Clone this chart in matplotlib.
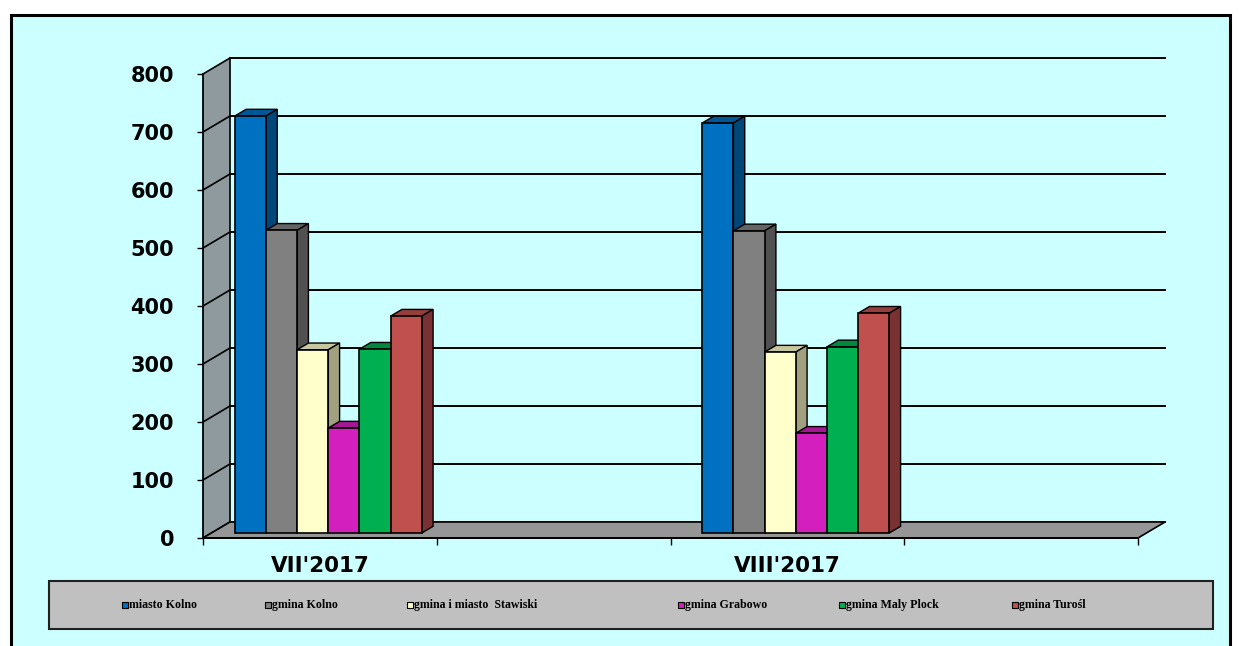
import numpy as np
import matplotlib
matplotlib.use("Agg")
import matplotlib.pyplot as plt
from matplotlib.patches import Rectangle, Polygon

# dane z wykresu (kategorie 2 i 4 sa puste)
categories = ["VII'2017", "", "VIII'2017", ""]
series_names = ["miasto Kolno", "gmina Kolno", "gmina i miasto  Stawiski",
                "gmina Grabowo", "gmina Maly Plock", "gmina Turośl"]
miasto_kolno = [719, np.nan, 707, np.nan]
gmina_kolno = [522, np.nan, 521, np.nan]
gmina_stawiski = [316, np.nan, 312, np.nan]
gmina_grabowo = [181, np.nan, 172, np.nan]
gmina_maly_plock = [317, np.nan, 321, np.nan]
gmina_turosl = [374, np.nan, 379, np.nan]
y_ticks = [0, 100, 200, 300, 400, 500, 600, 700, 800]

values = [miasto_kolno, gmina_kolno, gmina_stawiski,
          gmina_grabowo, gmina_maly_plock, gmina_turosl]
colors = ["#0070C0", "#808080", "#FFFFCC", "#D21FBE", "#00B050", "#C0504D"]


def shade(color, k):
    r, g, b = matplotlib.colors.to_rgb(color)
    return (r * k, g * k, b * k)


W, H = 1239, 646
fig = plt.figure(figsize=(W / 100, H / 100), dpi=100)
fig.patch.set_facecolor("white")

# tlo wykresu z ramka
fig.add_artist(Rectangle((11 / W, -0.02), (1230 - 11) / W, (H - 15) / H + 0.02,
                         transform=fig.transFigure, facecolor="#CCFFFF",
                         edgecolor="black", linewidth=2.2, zorder=0))

ax = fig.add_axes([203 / W, (H - 538) / H, (1138 - 203) / W, (538 - 74) / H])
ax.patch.set_visible(False)
ncat = len(categories)
ymax = y_ticks[-1]
ax.set_xlim(0, ncat)
ax.set_ylim(0, ymax)

# glebokosc "3D" w jednostkach danych
DX = 27 / (935 / ncat)
DY = 16 / (464 / ymax)

# lewa sciana
ax.add_patch(Polygon([(0, 0), (0, ymax), (DX, ymax + DY), (DX, DY)],
                     closed=True, facecolor="#8E9A9E", edgecolor="none",
                     zorder=0.5, clip_on=False))
# linie siatki na tylnej i lewej scianie
for v in y_ticks:
    ax.plot([DX, ncat + DX], [v + DY, v + DY], color="black", lw=1.4,
            zorder=1, clip_on=False)
    ax.plot([0, DX], [v, v + DY], color="black", lw=1.2, zorder=1, clip_on=False)
ax.plot([DX, DX], [DY, ymax + DY], color="black", lw=1.2, zorder=1, clip_on=False)

# podloga
ax.add_patch(Polygon([(0, 0), (ncat, 0), (ncat + DX, DY), (DX, DY)],
                     closed=True, facecolor="#969696", edgecolor="black",
                     linewidth=1.2, zorder=1.5, clip_on=False))

# slupki
nser = len(values)
group = 0.8
w = group / nser
f0, f1 = 0.31, 0.73
for c in range(ncat):
    for i in range(nser):
        h = values[i][c]
        if np.isnan(h):
            continue
        x0 = c + (1 - group) / 2 + i * w
        z = 3 + 2 * i
        top = [(x0 + f0 * DX, h + f0 * DY), (x0 + w + f0 * DX, h + f0 * DY),
               (x0 + w + f1 * DX, h + f1 * DY), (x0 + f1 * DX, h + f1 * DY)]
        side = [(x0 + w + f0 * DX, f0 * DY), (x0 + w + f1 * DX, f1 * DY),
                (x0 + w + f1 * DX, h + f1 * DY), (x0 + w + f0 * DX, h + f0 * DY)]
        ax.add_patch(Polygon(top, closed=True, facecolor=shade(colors[i], 0.78),
                             edgecolor="black", linewidth=1.0, zorder=z, clip_on=False))
        ax.add_patch(Polygon(side, closed=True, facecolor=shade(colors[i], 0.63),
                             edgecolor="black", linewidth=1.0, zorder=z, clip_on=False))
        ax.bar(x0 + f0 * DX, h, w, bottom=f0 * DY, align="edge", color=colors[i],
               edgecolor="black", linewidth=1.2, zorder=z + 1, clip_on=False)

# osie
for s in ["top", "right"]:
    ax.spines[s].set_visible(False)
for s in ["left", "bottom"]:
    ax.spines[s].set_linewidth(1.3)
    ax.spines[s].set_zorder(2)

ax.set_yticks(y_ticks)
ax.set_yticklabels([str(v) for v in y_ticks])
ax.tick_params(axis="y", direction="out", length=4.3, width=1, pad=16.5,
               labelsize=15)
for lbl in ax.get_yticklabels():
    lbl.set_fontweight("bold")
    lbl.set_fontfamily("DejaVu Sans")

ax.set_xticks(range(ncat + 1))
ax.set_xticklabels([""] * (ncat + 1))
ax.set_xticks([c + 0.5 for c in range(ncat)], minor=True)
ax.set_xticklabels(categories, minor=True)
ax.tick_params(axis="x", which="major", direction="out", length=5, width=1)
ax.tick_params(axis="x", which="minor", length=0, pad=13, labelsize=15.5)
for lbl in ax.get_xticklabels(minor=True):
    lbl.set_fontweight("bold")

# legenda
fig.add_artist(Rectangle((49 / W, (H - 629) / H), (1213 - 49) / W, 48 / H,
                         transform=fig.transFigure, facecolor="#C0C0C0",
                         edgecolor="#202020", linewidth=1.5, zorder=1))
leg_x = [122, 265, 407, 678, 839, 1012]
for i, name in enumerate(series_names):
    fig.add_artist(Rectangle((leg_x[i] / W, (H - 608) / H), 6 / W, 6 / H,
                             transform=fig.transFigure, facecolor=colors[i],
                             edgecolor="black", linewidth=0.8, zorder=2))
    fig.text((leg_x[i] + 7) / W, (H - 605) / H, name, fontsize=8.6,
             fontweight="bold", family="Liberation Serif", va="center",
             ha="left", zorder=3)

fig.savefig("out.png", dpi=100)
